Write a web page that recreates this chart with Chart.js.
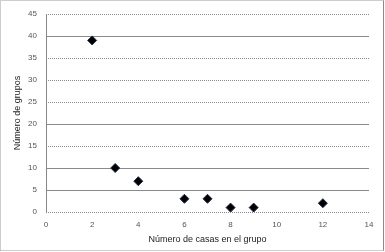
<!DOCTYPE html>
<html>
<head>
<meta charset="utf-8">
<script src="https://cdn.jsdelivr.net/npm/chart.js@4/dist/chart.umd.min.js"></script>
<style>
  html, body { margin: 0; padding: 0; background: #fff; }
  #c { display: block; }
</style>
</head>
<body>
<canvas id="c" width="385" height="252"></canvas>
<script>
/* Scatter: número de grupos vs número de casas */

const casas  = [2, 3, 4, 6, 7, 8, 9, 12];
const grupos = [39, 10, 7, 3, 3, 1, 1, 2];

const xTitle = 'Número de casas en el grupo';
const yTitle = 'Número de grupos';

// gridlines that look solid in the picture, the rest look dotted
const solidLines = [40, 20, 10, 5];

const tickFont = { family: 'Liberation Sans, Arial, sans-serif', size: 8 };
const titleFont = { family: 'Liberation Sans, Arial, sans-serif', size: 9 };

const frame = {
  id: 'frame',
  beforeDraw(chart) {
    const ctx = chart.ctx;
    const w = chart.width, h = chart.height;
    ctx.save();
    ctx.strokeStyle = '#9a9a9a';
    ctx.lineWidth = 1;
    ctx.setLineDash([1, 1]);
    ctx.beginPath();
    ctx.moveTo(0.5, h - 1.5); ctx.lineTo(0.5, 0.5); ctx.lineTo(w - 1.5, 0.5);
    ctx.moveTo(0.5, h - 1.5); ctx.lineTo(w - 1.5, h - 1.5);
    ctx.stroke();
    ctx.setLineDash([]);
    ctx.strokeStyle = '#8a8a8a';
    ctx.beginPath();
    ctx.moveTo(w - 1.5, 0.5); ctx.lineTo(w - 1.5, h - 1.5);
    ctx.stroke();
    ctx.restore();
  }
};

new Chart(document.getElementById('c'), {
  type: 'scatter',
  data: {
    datasets: [{
      data: casas.map((x, i) => ({ x: x, y: grupos[i] })),
      pointStyle: 'rectRot',
      pointRadius: 4.5,
      pointBackgroundColor: '#000',
      pointBorderColor: '#1f2d4a',
      pointBorderWidth: 1,
    }],
  },
  options: {
    responsive: false,
    animation: false,
    layout: { padding: { left: 8, right: 16, top: 14, bottom: 3 } },
    plugins: { legend: { display: false }, tooltip: { enabled: false } },
    scales: {
      x: {
        type: 'linear',
        min: 0, max: 14,
        ticks: { stepSize: 2, color: '#555', font: tickFont, padding: 8 },
        grid: {
          drawTicks: false,
          color: c => c.tick && c.tick.value === 0 ? '#888' : 'rgba(0,0,0,0)',
        },
        border: { display: false },
        title: { display: true, text: xTitle, color: '#222', font: titleFont, padding: 4 },
        afterFit: s => { s.height = 37; },
      },
      y: {
        min: 0, max: 45,
        ticks: { stepSize: 5, color: '#555', font: tickFont, padding: 9 },
        grid: {
          drawTicks: false,
          color: c => c.tick && solidLines.includes(c.tick.value) ? 'rgba(0,0,0,0)' : '#8a8a8a',
        },
        border: { display: false, dash: [1, 1] },
        title: { display: true, text: yTitle, color: '#222', font: titleFont, padding: 4 },
        afterFit: s => { s.width = 38; },
      },
      y2: {
        position: 'left',
        min: 0, max: 45,
        ticks: { stepSize: 5, display: false },
        grid: {
          drawTicks: false,
          color: c => c.tick && solidLines.includes(c.tick.value) ? '#8a8a8a' : 'rgba(0,0,0,0)',
        },
        border: { display: false },
        afterFit: s => { s.width = 0; },
      },
    },
  },
  plugins: [frame],
});
</script>
</body>
</html>
